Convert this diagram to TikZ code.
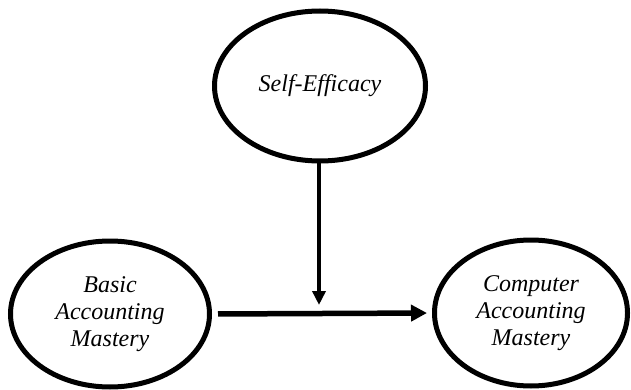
\documentclass[tikz,border=0pt]{standalone}
\usepackage{fontspec}
\setmainfont{Liberation Serif}
\usetikzlibrary{shapes.geometric}
\usetikzlibrary{arrows.meta}

\begin{document}
\begin{tikzpicture}[x=1pt,y=-1pt,
    varbox/.style={draw, ellipse, line width=5pt, inner sep=0pt, align=center,
      font=\fontsize{24}{27}\selectfont\itshape},
    link/.style={line width=#1, -{Triangle[length=16pt,width=16pt]}}]
          \useasboundingbox (0,0) rectangle (631,390);
          \node[varbox, minimum width=211pt, minimum height=150pt] (self) at (320,86) {Self-Efficacy};
          \node[varbox, minimum width=199pt, minimum height=146pt] (basic) at (110,314) {Basic\\Accounting\\Mastery};
          \node[varbox, minimum width=193pt, minimum height=146pt] (comp) at (531,313) {Computer\\Accounting\\Mastery};

          % effet direct et modération
          \draw[link=5.5pt, shorten <=6pt, shorten >=5pt] (basic.east) -- (comp.west);
          \coordinate (mod) at (319,305);
          \draw[link=4.5pt, -{Triangle[length=14pt,width=13pt]}] (self.south -| mod) -- (mod);
      \end{tikzpicture}
\end{document}
